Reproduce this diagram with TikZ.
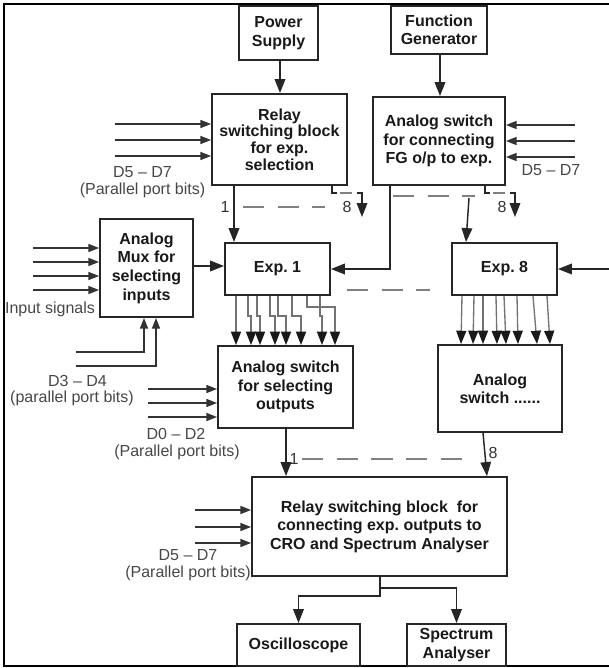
\documentclass[tikz,border=0pt]{standalone}
\usepackage{fontspec}
\setmainfont{Liberation Sans}
\usetikzlibrary{arrows.meta}
\begin{document}
\begin{tikzpicture}[x=0.75pt,y=-0.75pt,
  box/.style={draw=black!85, line width=1.4pt, inner sep=0pt, align=center, text=black!90, font=\bfseries\fontsize{12}{13.8}\selectfont},
  lbl/.style={inner sep=0pt, text=black!72, font=\fontsize{12}{14}\selectfont},
  num/.style={inner sep=0pt, text=black!80, font=\fontsize{12}{14}\selectfont},
  arr/.style={draw=black!85, line width=1.1pt, -{Triangle[length=10.5pt,width=8pt]}},
  inarr/.style={draw=black!80, line width=1.1pt, -{Triangle[length=8pt,width=6pt]}},
  wire/.style={draw=black!85, line width=1.1pt},
  dsh/.style={draw=black!50, line width=1.6pt, dash pattern=on 16pt off 10pt},
  outarr/.style={draw=black!55, line width=1pt, -{Triangle[length=10pt,width=7.5pt,color=black!90]}}
]
\useasboundingbox (0,0) rectangle (609,668);
\draw[line width=2pt] (609,4) -- (4,4) -- (4,666) -- (609,666);

% boxes
\node[box, minimum width=59.25pt, minimum height=40.5pt] (ps) at (278.5,33) {Power\\Supply};
\node[box, minimum width=72pt, minimum height=36pt] (fg) at (439,30) {Function\\Generator};
\node[box, minimum width=101.25pt, minimum height=68.25pt, font=\bfseries\fontsize{12}{12.5}\selectfont] (r1) at (279.5,139.5) {Relay\\switching block\\for exp.\\selection};
\node[box, minimum width=99pt, minimum height=66pt] (fgs) at (439,141) {Analog switch\\for connecting\\FG o/p to exp.};
\node[box, minimum width=69.75pt, minimum height=73.5pt, font=\bfseries\fontsize{12}{14}\selectfont] (mux) at (146.5,268) {Analog\\Mux for\\selecting\\inputs};
\node[box, minimum width=78.75pt, minimum height=39pt] (e1) at (277.5,269) {Exp.\ 1};
\node[box, minimum width=78.75pt, minimum height=39pt] (e8) at (504.5,269) {Exp.\ 8};
\node[box, minimum width=101.25pt, minimum height=61.5pt] (so) at (285.5,387) {Analog switch\\for selecting\\outputs};
\node[box, minimum width=93pt, minimum height=65.25pt] (s8) at (500,388.5) {Analog\\switch ......};
\node[box, minimum width=191.25pt, minimum height=74.25pt] (r2) at (379.5,526.5) {Relay switching block\ \ for\\connecting exp.\ outputs to\\CRO and Spectrum Analyser};
\node[box, minimum width=92.25pt, minimum height=31.5pt] (osc) at (298.5,645) {Oscilloscope};
\node[box, minimum width=74.25pt, minimum height=31.5pt] (sp) at (456.5,645) {Spectrum\\Analyser};

% labels
\node[lbl] (l1a) at (142.5,172) {D5 – D7};
\node[lbl] (l1b) at (142.5,190) {(Parallel port bits)};
\node[lbl] (l2a) at (551,170) {D5 – D7};
\node[lbl] (l3) at (50,309) {Input signals};
\node[lbl] (l4a) at (77.5,381) {D3 – D4};
\node[lbl] (l4b) at (72,398) {(parallel port bits)};
\node[lbl] (l5a) at (176,434) {D0 – D2};
\node[lbl] (l5b) at (177,452) {(Parallel port bits)};
\node[lbl] (l6a) at (188,555) {D5 – D7};
\node[lbl] (l6b) at (188,573) {(Parallel port bits)};
\node[num] (n1) at (225,207) {1};
\node[num] (n2) at (347,207) {8};
\node[num] (n3) at (502,207) {8};
\node[num] (n4) at (294,459) {1};
\node[num] (n5) at (493,453) {8};

% top feeds
\draw[arr] (ps.south -| 280,0) -- (r1.north -| 280,0);
\draw[arr] (fg.south -| 440,0) -- (fgs.north -| 440,0);

% parallel port inputs
\foreach \yy in {124,140,156} \draw[inarr] (115,\yy) -- (r1.west |- 115,\yy);
\foreach \yy in {125,141,157} \draw[inarr] (575,\yy) -- (fgs.east |- 575,\yy);
\foreach \yy in {248,262,276,290} \draw[inarr] (33,\yy) -- (mux.west |- 33,\yy);
\draw[inarr] (76,352) -| (mux.south -| 144,0);
\draw[inarr] (76,366) -| (mux.south -| 156,0);
\foreach \yy in {389,403,417} \draw[inarr] (148,\yy) -- (so.west |- 148,\yy);
\foreach \yy in {510,527,543} \draw[inarr] (195,\yy) -- (r2.west |- 195,\yy);

% relay block outputs
\draw[arr] (r1.south -| 234,0) -- (e1.north -| 234,0);
\draw[dsh] (243,207) -- (325,207);
\draw[wire, line width=1pt] (r1.south -| 332,0) -- (332,193) -- (337,193);
\draw[dsh, dash pattern=on 9pt off 4pt] (340,193) -- (356,193);
\draw[arr] (357,193) -- (362,193) -- (362,217);

% FG switch outputs
\draw[arr] (fgs.south -| 390,0) |- (e1.east);
\draw[dsh] (393,196) -- (475,196);
\draw[arr] (469,198) -- (e8.north -| 466,0);
\draw[wire, line width=1pt] (fgs.south -| 485,0) -- (485,193) -- (490,193);
\draw[dsh, dash pattern=on 9pt off 4pt] (493,193) -- (509,193);
\draw[arr] (510,193) -- (515,193) -- (515,217);

% experiments
\draw[arr] (mux.east |- 0,266) -- (e1.west |- 0,266);
\draw[arr] (609,0 |- e8.east) -- (e8.east);
\draw[dsh] (347,290) -- (430,290);

\foreach \xa/\xb/\yj in {236/236/316, 248/251/316, 257/260/316, 270/275/316, 278/286/316, 292/301/316, 307/335/307, 320/322/316}
  \draw[outarr] (e1.south -| \xa,0) -- (\xa,\yj) -- (\xb,\yj) -- (so.north -| \xb,0);
\foreach \xa/\xb in {462/461, 474/473, 483/483, 496/497, 504/506, 517/518, 533/537, 547/550}
  \draw[outarr] (e8.south -| \xa,0) -- (s8.north -| \xb,0);

% to lower relay block
\draw[arr] (so.south -| 286,0) -- (r2.north -| 286,0);
\draw[dsh] (302,459) -- (462,459);
\draw[arr] (s8.south -| 483,0) -- (r2.north -| 487,0);

% to instruments
\draw[arr] (r2.south -| 380,0) -- (380,596) -| (osc.north);
\draw[arr] (380,588) -| (sp.north);
\end{tikzpicture}
\end{document}
